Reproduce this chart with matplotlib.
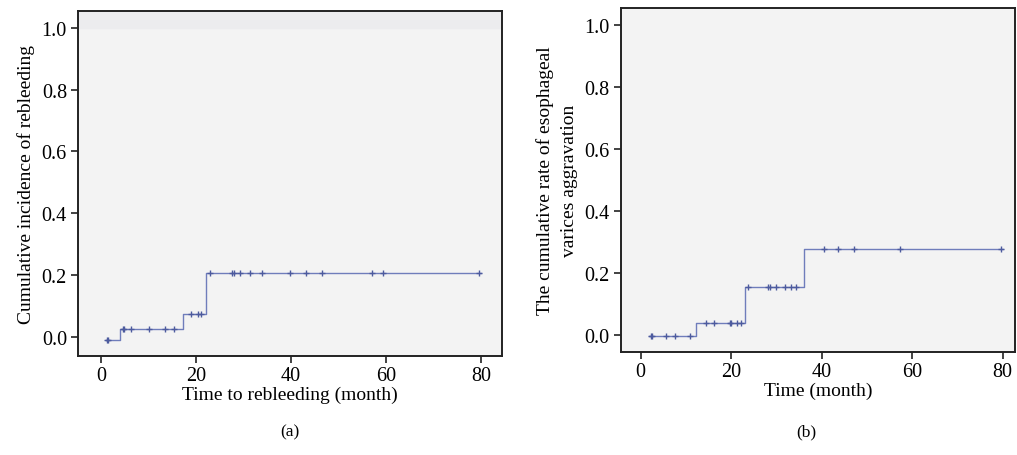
import numpy as np
import matplotlib
matplotlib.use('Agg')
import matplotlib.pyplot as plt

plt.rcParams['font.family'] = ['Liberation Serif', 'DejaVu Serif']

# (a) rebleeding: step times and cumulative incidence after each step
a_times = [1.0, 4.1, 17.2, 22.1, 80.0]
a_vals = [-0.01, 0.025, 0.073, 0.205, 0.205]
a_cens = [1.3, 1.5, 4.6, 4.9, 6.3, 10.0, 13.5, 15.4, 18.9, 20.4, 21.1,
          23.0, 27.5, 28.0, 29.3, 31.4, 33.8, 39.8, 43.2, 46.5, 57.0, 59.3, 79.6]

# (b) esophageal varices aggravation
b_times = [1.9, 12.2, 23.1, 36.1, 80.0]
b_vals = [-0.005, 0.036, 0.155, 0.275, 0.275]
b_cens = [2.2, 2.5, 5.7, 7.5, 11.0, 14.4, 16.3, 19.7, 20.0, 21.2, 22.2,
          23.8, 28.2, 28.6, 30.0, 31.9, 33.2, 34.4, 40.5, 43.7, 47.1, 57.3, 79.6]

line_col = '#6f7dbb'
mark_col = '#4d5b9e'


def step_val(times, vals, t):
    # value of the step curve at time t
    idx = np.searchsorted(times, t, side='right') - 1
    return vals[max(idx, 0)]


def draw(ax, times, vals, cens, xlabel, ylabel, xlim, ylim):
    ax.set_facecolor('#f3f3f3')
    ax.step(times, vals, where='post', color=line_col, lw=1.0)
    cy = [step_val(times, vals, t) for t in cens]
    ax.plot(cens, cy, '+', color=mark_col, ms=5, mew=1.0)
    ax.set_xlim(*xlim)
    ax.set_ylim(*ylim)
    ax.set_xticks([0, 20, 40, 60, 80])
    ax.set_yticks([0.0, 0.2, 0.4, 0.6, 0.8, 1.0])
    ax.set_yticklabels(['0.0', '0.2', '0.4', '0.6', '0.8', '1.0'])
    for s in ax.spines.values():
        s.set_linewidth(1.4)
        s.set_color('#222222')
    ax.tick_params(labelsize=14.5, length=5, width=1.2, color='#222222', pad=3)
    ax.tick_params(axis='x', pad=2)
    ax.set_xlabel(xlabel, fontsize=14, labelpad=1)
    ax.set_ylabel(ylabel, fontsize=14, labelpad=5, linespacing=1.5)


fig = plt.figure(figsize=(10.17, 4.56), dpi=100)
ax1 = fig.add_axes([0.0767, 0.2171, 0.417, 0.7566])
ax2 = fig.add_axes([0.6106, 0.2259, 0.3874, 0.7544])

draw(ax1, a_times, a_vals, a_cens, 'Time to rebleeding (month)',
     'Cumulative incidence of rebleeding', (-4.84, 84.4), (-0.063, 1.055))
ax1.axhspan(1.0, 1.055, color='#ececee', zorder=0)

draw(ax2, b_times, b_vals, b_cens, 'Time (month)',
     'The cumulative rate of esophageal\nvarices aggravation', (-4.35, 82.7), (-0.056, 1.054))

fig.text(0.285, 0.052, '(a)', ha='center', va='center', fontsize=12.5)
fig.text(0.793, 0.052, '(b)', ha='center', va='center', fontsize=12.5)

fig.savefig('out.png', dpi=100)
